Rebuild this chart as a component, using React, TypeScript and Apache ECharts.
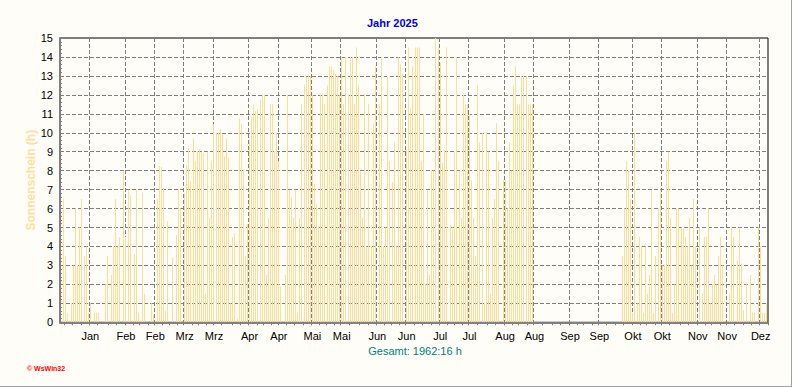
import React, { useEffect, useRef } from "react";
import * as echarts from "echarts";

// Daily sunshine hours 2025 (Jan 1 .. Dec 4), one array per month
const jan = [0, 6.5, 3.5, 0.5, 0, 1, 3, 6, 3, 5, 6.5, 3.5, 4, 0.5, 1, 0, 0.5, 0.5, 0.5, 0, 0, 2, 3.5, 0, 2.5, 4, 6.5, 4, 4.5, 0, 8];
const feb = [4.5, 7, 6.7, 0.1, 3.6, 7, 0.5, 0.1, 6.85, 1.5, 0, 0, 1, 0.4, 0, 6.5, 8.25, 8.2, 7.1, 0.6, 5.35, 0, 3.4, 0, 4.6, 7, 6, 0];
const mar = [6.8, 8.3, 9.2, 7.45, 9.7, 8.5, 9.05, 9.15, 9.0, 8.95, 1.5, 9.0, 5.5, 8.5, 10.45, 10.0, 10.0, 10.2, 9.9, 8.75, 9.7, 8.7, 1.0, 4.5, 4.7, 0.2, 10.75, 10.45, 8.05, 3.5, 5.2];
const apr = [9.6, 10.85, 11.5, 11.15, 11.25, 11.75, 12, 12, 2.5, 5.5, 11.5, 11.5, 9, 10, 8.5, 1.9, 0, 2.5, 12, 7, 6.6, 5.5, 7, 0.5, 5.5, 11.5, 12.55, 12.95, 13, 13];
const may = [12, 7.3, 6.25, 5.1, 12, 12, 11.5, 12.5, 13.5, 13.5, 13.3, 13.1, 13, 12, 14, 11.5, 14, 12, 14, 14, 11.5, 14.5, 12.5, 8, 5.5, 12, 4, 11.5, 4, 10.5, 13.5];
const jun = [0, 11.5, 14, 4, 5, 13, 8.5, 7.4, 9.5, 4, 14, 13.6, 13.1, 0, 9.1, 14.5, 11.3, 13.5, 14.5, 14.5, 14.5, 8.5, 11, 2, 7, 2.5, 8, 8, 15, 14.5];
const jul = [13.7, 8.4, 9.1, 14.5, 0, 5.15, 5, 9, 14, 8, 5.5, 12, 11.5, 11.5, 11, 7.5, 5.5, 3.5, 12.5, 9.5, 10, 1, 10, 9, 1.5, 5.5, 6.5, 10.5, 8.5, 0, 7.5];
const aug = [7.5, 6, 9.5, 8, 12.5, 13.5, 11.5, 11.5, 13, 13, 13, 11.5, 11.5, 11.5, 0, 0, 0, 0, 0, 0, 0, 0, 0, 0, 0, 0, 0, 0, 0, 0, 0];
const sep = [0, 0, 0, 0, 0, 0, 0, 0, 0, 0, 0, 0, 0, 0, 0, 0, 0, 0, 0, 0, 0, 0, 0, 0, 0, 3.5, 6, 8.5, 8, 6.5];
const oct = [0.5, 10, 1, 4.5, 4, 0.5, 4, 1.5, 2.5, 7, 0.5, 3.5, 6, 7, 3, 3, 8.5, 9, 5.5, 0.5, 2, 6, 6, 5, 5, 4.5, 4, 5.5, 3, 6.5, 4];
const nov = [0, 5, 1.5, 4.5, 4.5, 6, 1, 2, 2.5, 2, 3.5, 4.5, 3, 0, 0, 1.5, 5, 4.5, 0, 3.25, 5, 3.1, 0.65, 2.1, 0.1, 2.5, 0.5, 0.5, 0, 5];
const dec = [4, 0.5, 0.5, 1];

const MONTH_NAMES = ["Jan", "Feb", "Mrz", "Apr", "Mai", "Jun", "Jul", "Aug", "Sep", "Okt", "Nov", "Dez"];
const MONTH_DAYS = [31, 28, 31, 30, 31, 30, 31, 31, 30, 31, 30, 31];
const Y_TICKS_MAX = 15;

const TITLE = "Jahr 2025";
const TOTAL_TEXT = "Gesamt: 1962:16 h";
const Y_NAME = "Sonnenschein (h)";
const COPYRIGHT = "\u00A9 WsWin32";

const BAR_COLOR = "#FFDC98";

export default function App() {
  const ref = useRef<HTMLDivElement>(null);

  useEffect(() => {
    document.body.style.margin = "0";
    if (!ref.current) return;
    const chart = echarts.init(ref.current, undefined, { renderer: "svg" });

    const days: number[] = [...jan, ...feb, ...mar, ...apr, ...may, ...jun, ...jul, ...aug, ...sep, ...oct, ...nov, ...dec];
    const n = days.length;

    // month starts
    const starts: number[] = [];
    let acc = 0;
    for (const d of MONTH_DAYS) {
      starts.push(acc);
      acc += d;
    }
    // half-month grid positions with labels
    const gridIdx: number[] = [];
    const labels: string[] = new Array(n).fill("");
    starts.forEach((s, m) => {
      if (s > 0 && s < n) {
        gridIdx.push(s);
        labels[s] = MONTH_NAMES[m];
      }
      if (s + 14 < n) {
        gridIdx.push(s + 14);
        labels[s + 14] = MONTH_NAMES[m];
      }
    });
    const gridSet = new Set(gridIdx);
    // small ticks: quarter subdivisions between grid lines
    const tickSet = new Set<number>([2, 6, 10]);
    for (let k = 0; k < gridIdx.length - 1; k++) {
      const a = gridIdx[k];
      const b = gridIdx[k + 1];
      for (let q = 0; q < 4; q++) tickSet.add(a + Math.round((q * (b - a)) / 4));
    }
    tickSet.add(gridIdx[gridIdx.length - 1]);

    const data = days.map((v, i) => [i, v]);

    const option: any = {
      animation: false,
      backgroundColor: "#FFFDF7",
      textStyle: { fontFamily: "Liberation Sans, Arial, sans-serif" },
      grid: {
        left: 60,
        top: 38,
        width: 708,
        height: 284.3,
        show: true,
        borderColor: "#000000",
        borderWidth: 1,
        backgroundColor: "transparent",
      },
      xAxis: {
        type: "category",
        data: labels,
        boundaryGap: true,
        axisLine: { show: true, lineStyle: { color: "#808080", width: 2 } },
        axisTick: {
          show: true,
          length: 3,
          interval: (i: number) => tickSet.has(i),
          lineStyle: { color: "#808080", width: 1 },
        },
        axisLabel: {
          interval: 0,
          color: "#000000",
          fontSize: 11,
          margin: 8,
          fontFamily: "Liberation Sans, Arial, sans-serif",
        },
        splitLine: {
          show: true,
          interval: (i: number) => gridSet.has(i),
          lineStyle: { color: "#808080", width: 1, type: [4, 2] },
        },
      },
      yAxis: {
        type: "value",
        min: 0,
        max: Y_TICKS_MAX,
        interval: 1,
        name: Y_NAME,
        nameLocation: "middle",
        nameGap: 23,
        nameMoveOverlap: false,
        nameRotate: 90,
        nameTextStyle: {
          color: "#FFDFA0",
          fontWeight: "bold",
          fontSize: 12,
          fontFamily: "Liberation Sans, Arial, sans-serif",
        },
        axisLine: { show: true, lineStyle: { color: "#808080", width: 2 } },
        axisTick: { show: true, inside: true, length: 2, lineStyle: { color: "#808080" } },
        minorTick: { show: true, splitNumber: 5, length: 2, lineStyle: { color: "#808080" } },
        axisLabel: {
          color: "#000000",
          fontSize: 11,
          margin: 7,
          fontFamily: "Liberation Sans, Arial, sans-serif",
        },
        splitLine: {
          show: true,
          showMinLine: false,
          showMaxLine: false,
          lineStyle: { color: "#808080", width: 1, type: [4, 2] },
        },
      },
      series: [
        {
          type: "custom",
          data,
          encode: { x: 0, y: 1 },
          clip: true,
          renderItem: (params: any, api: any) => {
            const v = api.value(1);
            if (!v) return null;
            const idx = api.value(0);
            const top = api.coord([idx, v]);
            const base = api.coord([idx, 0]);
            const x = Math.round(top[0] - 0.5);
            return {
              type: "rect",
              shape: { x, y: top[1], width: 1, height: base[1] - top[1] },
              style: { fill: BAR_COLOR },
            };
          },
        },
      ],
      graphic: [
        {
          type: "text",
          left: 397 - 30,
          top: 17,
          style: {
            text: TITLE,
            fill: "#0000F0",
            font: "bold 11px 'Liberation Sans', Arial, sans-serif",
            width: 60,
            align: "center",
          },
        },
        {
          type: "text",
          x: 415,
          y: 351,
          style: {
            text: TOTAL_TEXT,
            fill: "#008080",
            font: "11px 'Liberation Sans', Arial, sans-serif",
            align: "center",
            verticalAlign: "middle",
          },
        },
        {
          type: "text",
          x: 27,
          y: 368,
          style: {
            text: COPYRIGHT,
            fill: "#FF0000",
            font: "bold 7px 'Liberation Sans', Arial, sans-serif",
            align: "left",
            verticalAlign: "middle",
          },
        },
        { type: "rect", shape: { x: 791, y: 0, width: 1, height: 387 }, style: { fill: "#A0A0A0" } },
        { type: "rect", shape: { x: 0, y: 386, width: 792, height: 1 }, style: { fill: "#A0A0A0" } },
      ],
    };

    chart.setOption(option);
    return () => chart.dispose();
  }, []);

  return <div ref={ref} style={{ width: 792, height: 387 }} />;
}
